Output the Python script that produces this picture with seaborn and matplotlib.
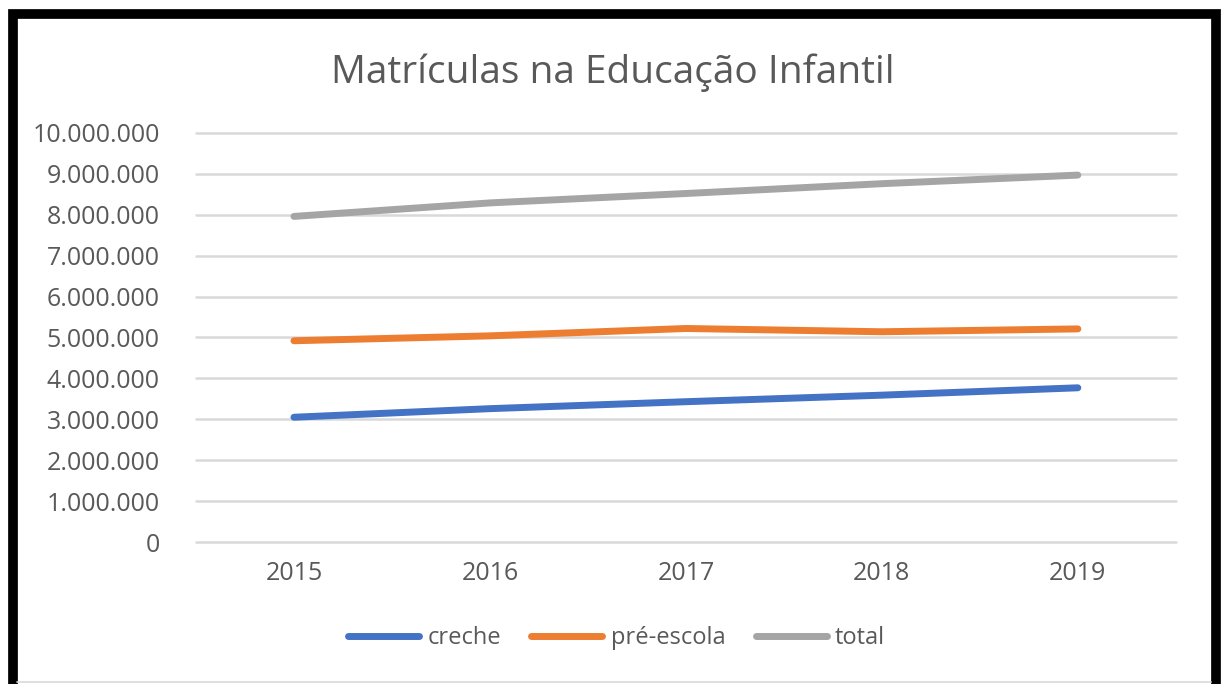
import pandas as pd
import numpy as np
import seaborn as sns
import matplotlib.pyplot as plt
from matplotlib.patches import Rectangle
from matplotlib.lines import Line2D
from matplotlib.ticker import FuncFormatter

sns.set_theme(style="white")
plt.rcParams['font.family'] = ['Open Sans', 'DejaVu Sans']

# data
anos = ["2015", "2016", "2017", "2018", "2019"]
creche = [3050000, 3260000, 3430000, 3590000, 3770000]
pre_escola = [4920000, 5040000, 5220000, 5140000, 5210000]
total = [7960000, 8290000, 8520000, 8760000, 8970000]
series = ["creche", "pré-escola", "total"]
cores = ["#4472C4", "#ED7D31", "#A5A5A5"]

df = pd.DataFrame({
    "ano": anos * 3,
    "valor": creche + pre_escola + total,
    "serie": np.repeat(series, len(anos)),
})
df["pos"] = np.tile(np.arange(len(anos)), 3)

fig = plt.figure(figsize=(12.21, 6.84), dpi=100)
ax = fig.add_axes([0.1605, 0.2076, 0.8025, 0.598])

sns.lineplot(data=df, x="pos", y="valor", hue="serie", palette=cores,
             linewidth=5, solid_capstyle="round", legend=False, ax=ax)

ax.set_xlim(-0.5, 4.5)
ax.set_ylim(0, 10000000)
ax.set_yticks(np.arange(0, 10000001, 1000000))
ax.set_xticks(range(len(anos)))
ax.set_xticklabels(anos)
ax.yaxis.set_major_formatter(FuncFormatter(lambda v, p: f"{int(v):,}".replace(",", ".")))
ax.grid(axis="y", color="#d9d9d9", linewidth=1.8)
for gl in ax.get_ygridlines():
    gl.set_clip_on(False)
ax.set_axisbelow(True)
for s in ax.spines.values():
    s.set_visible(False)
ax.tick_params(axis="both", length=0, labelsize=18, labelcolor="#595959")
ax.tick_params(axis="y", pad=26)
ax.tick_params(axis="x", pad=14)
ax.set_xlabel("")
ax.set_ylabel("")

fig.text(0.502, 0.893, "Matrículas na Educação Infantil", ha="center", va="center",
         fontsize=28, color="#595959")

handles = [Line2D([0], [0], color=c, lw=5, solid_capstyle="round") for c in cores]
fig.legend(handles, series, loc="center", bbox_to_anchor=(0.505, 0.067), ncol=3,
           frameon=False, fontsize=17, labelcolor="#595959", handlelength=3.0,
           handletextpad=0.35, columnspacing=1.3)

# frame around the chart
fig.add_artist(Rectangle((12.5 / 1221, -0.05), (1216 - 12.5) / 1221, 1.05 - 14 / 684,
                         transform=fig.transFigure, fill=False, edgecolor="black",
                         linewidth=7))
fig.add_artist(Line2D([17 / 1221, 1211 / 1221], [2 / 684, 2 / 684],
                      transform=fig.transFigure, color="#d9d9d9", lw=1.2))

fig.savefig("out.png", dpi=100)
